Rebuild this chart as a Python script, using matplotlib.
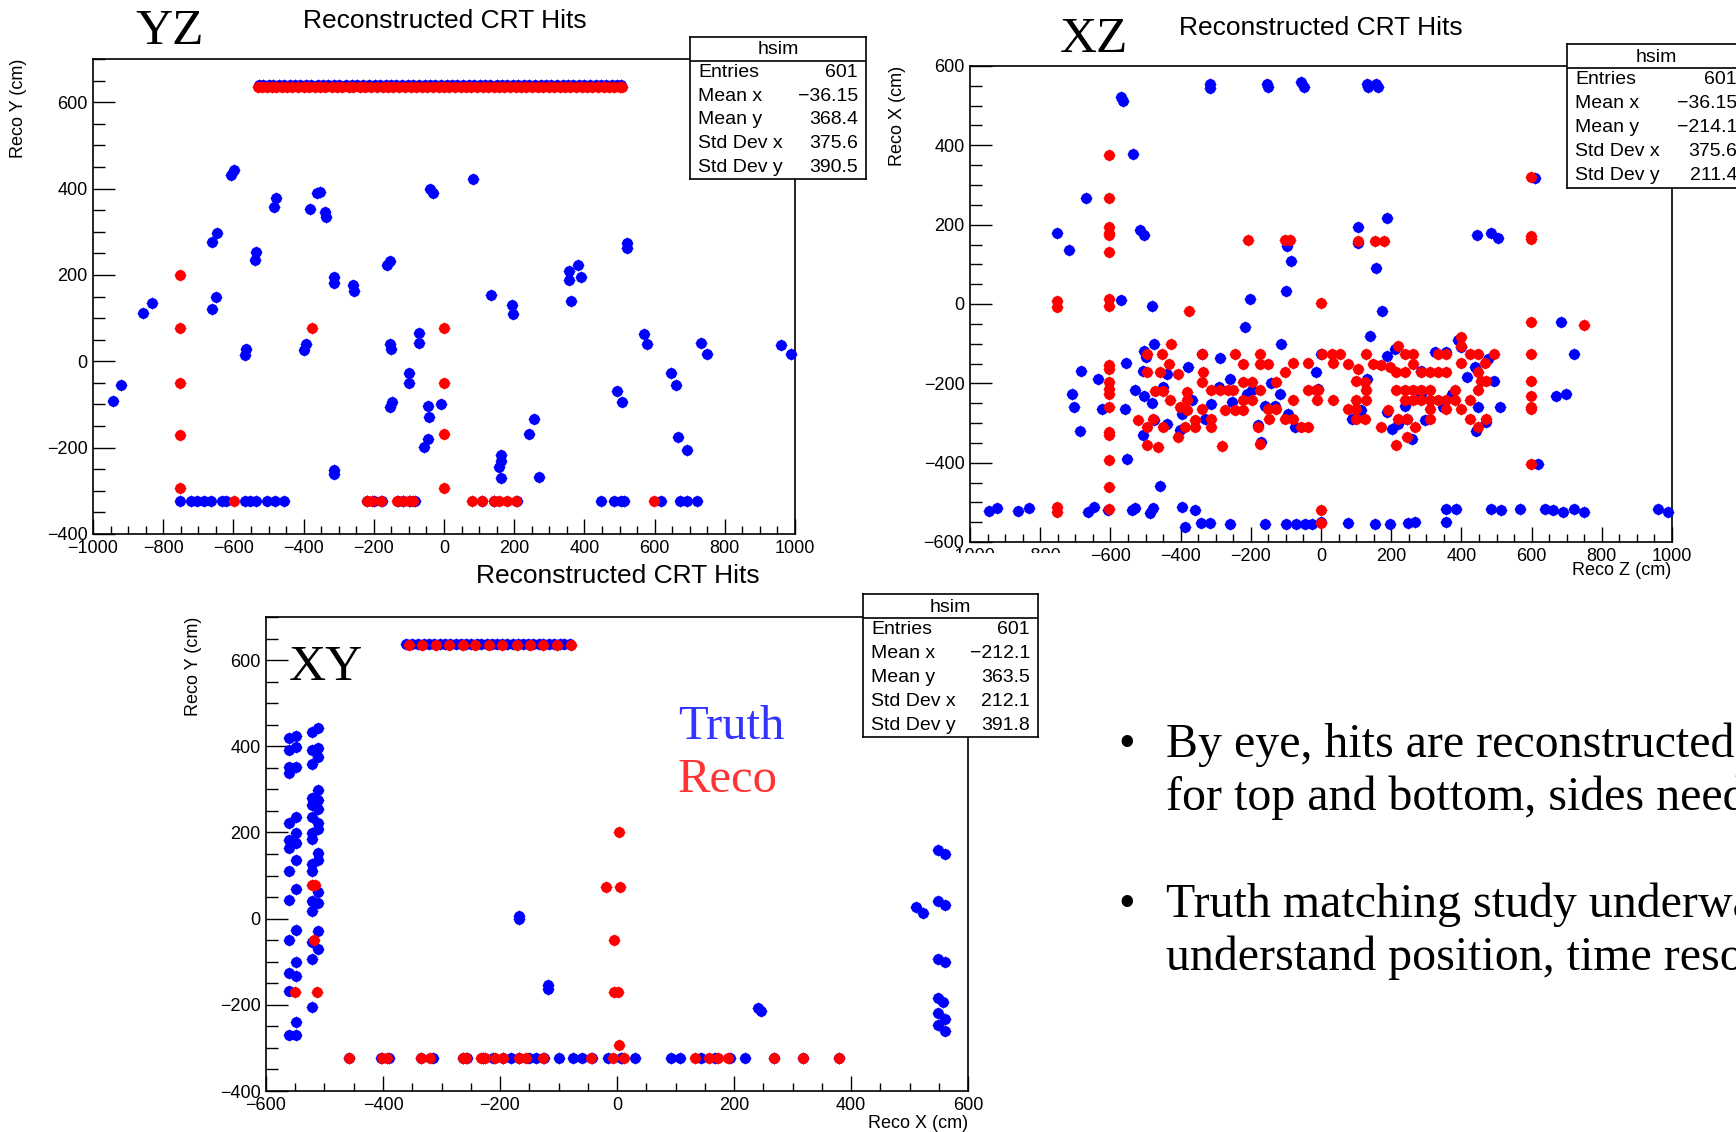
import numpy as np
import matplotlib.pyplot as plt
from matplotlib.patches import Rectangle
from matplotlib.ticker import MultipleLocator

plt.rcParams["font.family"] = ["Liberation Sans", "DejaVu Sans"]

W, H = 1736, 1132
BLUE = "#0000ff"
RED = "#ff0000"
SERIF = ["Liberation Serif", "DejaVu Serif"]

# ---------------- YZ view (z, y) ----------------
yz_truth = [(-942, -91), (-919, -54), (-857, 112), (-832, 135), (-660, 122), (-650, 150),
            (-661, 277), (-646, 297), (-606, 431), (-599, 442), (-568, 14), (-565, 28),
            (-539, 234), (-535, 254), (-485, 358), (-478, 377), (-400, 25), (-392, 40),
            (-383, 353), (-362, 389), (-353, 392), (-340, 346), (-337, 335), (-314, 195),
            (-313, 181), (-314, -251), (-314, -261), (-260, 176), (-256, 162), (-163, 224),
            (-155, 233), (-155, 40), (-152, 28), (-99, -27), (-99, -50), (-71, 66), (-71, 42),
            (-155, -105), (-149, -94), (-46, -103), (-43, -128), (-56, -198), (-47, -181),
            (-40, 398), (-30, 389), (-9, -99), (82, 423), (134, 154), (195, 131), (196, 110),
            (243, -168), (255, -134), (162, -217), (162, -232), (157, -244), (162, -270),
            (272, -268), (357, 209), (357, 189), (382, 222), (390, 196), (361, 139), (522, 273),
            (522, 262), (492, -69), (508, -94), (570, 63), (577, 40), (647, -28), (662, -56),
            (668, -175), (693, -206), (731, 43), (750, 16), (961, 37), (989, 16)]
yz_reco = [(-751, 200), (-751, 76), (-751, -50), (-751, -170), (-751, -294), (-375, 76),
           (1, 76), (1, -50), (1, -169), (1, -294)]
yz_top_truth_y, yz_top_reco_y, yz_bottom_y = 639, 635, -324
yz_top_truth_z = [-528, -515, -500, -488, -470, -455, -440, -425, -410, -392, -378, -360, -345,
                  -330, -312, -298, -280, -262, -248, -230, -215, -198, -182, -165, -150, -136,
                  -120, -103, -88, -72, -55, -40, -25, -8, 8, 22, 38, 55, 70, 85, 102, 118, 132,
                  150, 165, 180, 196, 212, 228, 242, 258, 275, 290, 305, 322, 338, 352, 368, 385,
                  400, 415, 432, 448, 462, 478, 492, 505]
yz_top_reco_z = [-530, -518, -505, -490, -478, -462, -448, -432, -415, -400, -385, -368, -352,
                 -338, -320, -305, -290, -272, -258, -240, -225, -208, -192, -175, -160, -145,
                 -128, -112, -95, -80, -62, -48, -30, -15, 0, 15, 30, 48, 62, 78, 95, 110, 125,
                 142, 158, 172, 188, 205, 220, 235, 250, 268, 282, 298, 312, 330, 345, 360, 375,
                 392, 408, 422, 438, 455, 470, 485, 500, 508]
yz_bottom_truth_z = [-751, -722, -705, -684, -663, -632, -620, -566, -552, -535, -504, -481, -457,
                     -220, -200, -177, -130, -116, -97, -82, 107, 143, 208, 446, 484, 503, 513,
                     617, 672, 693, 721]
yz_bottom_reco_z = [-599, -220, -206, -180, -134, -116, -101, -87, 79, 108, 143, 157, 179, 205, 598]

# ---------------- XZ view (z, x) ----------------
xz_truth = [(-947, -522), (-923, -514), (-862, -522), (-833, -514), (-753, 179), (-719, 136),
            (-669, 266), (-710, -228), (-703, -260), (-683, -168), (-686, -320), (-663, -524),
            (-648, -512), (-634, -190), (-625, -264), (-606, -520), (-571, 522), (-565, 512),
            (-537, 377), (-570, 10), (-516, 186), (-503, 174), (-555, -149), (-558, -264),
            (-554, -390), (-539, -520), (-530, -514), (-482, -6), (-486, -527), (-478, -514),
            (-458, -460), (-476, -101), (-503, -119), (-500, -134), (-506, -169), (-530, -216),
            (-503, -231), (-482, -249), (-506, -331), (-449, -210), (-439, -176), (-397, -513),
            (-359, -520), (-388, -562), (-342, -552), (-316, -553), (-316, 555), (-316, 545),
            (-260, -555), (-155, 555), (-152, 547), (-160, -555), (-56, 560), (-49, 547),
            (-101, -555), (-70, -555), (-46, -555), (-27, -555), (-203, 12), (-217, -57),
            (-115, -101), (-101, 32), (-86, 108), (-96, 146), (-380, -159), (-367, -243),
            (-397, -277), (-402, -317), (-340, -127), (-288, -136), (-260, -189), (-292, -210),
            (-253, -247), (-212, -226), (-198, -218), (-179, -306), (-170, -348), (-160, -256),
            (-132, -256), (-143, -200), (-118, -226), (-94, -277), (-75, -310), (-8, -214),
            (0, -126), (-15, -172), (-312, -252), (-331, -289), (-439, -302), (-476, -292),
            (130, 555), (158, 555), (135, 547), (161, 547), (106, 195), (187, 218), (104, 153),
            (158, 92), (175, -18), (139, -80), (187, -130), (210, -113), (130, -189), (115, -268),
            (87, -289), (187, -273), (201, -314), (220, -302), (244, -289), (258, -340),
            (239, -256), (286, -168), (286, -226), (296, -293), (324, -122), (357, -122),
            (348, -260), (372, -226), (391, -92), (400, -109), (417, -183), (438, -159),
            (447, -260), (443, -319), (471, -298), (476, -138), (493, -195), (509, -260),
            (609, 317), (618, -404), (445, 174), (485, 178), (504, 166), (684, -46), (720, -127),
            (670, -232), (699, -228), (0, -549), (78, -553), (154, -555), (196, -555), (248, -553),
            (267, -549), (357, -549), (357, -516), (386, -516), (485, -516), (514, -520),
            (566, -518), (637, -516), (661, -520), (689, -524), (722, -516), (749, -524),
            (959, -516), (988, -524)]
xz_reco = [(-753, -512), (-753, -524), (-753, 8), (-753, -7),
           (-604, 376), (-604, 268), (-604, 193), (-604, 180), (-604, 174), (-604, 132),
           (-604, 13), (-604, -4), (-604, -155), (-604, -164), (-604, -197), (-604, -214),
           (-604, -226), (-604, -260), (-604, -323), (-604, -331), (-604, -394), (-604, -461),
           (-604, -516), (-376, -18), (-208, 161), (-103, 161), (-89, 161), (0, 2), (0, -520),
           (0, -552), (-497, -127), (-497, -172), (-520, -292), (-497, -310), (-497, -356),
           (-463, -361), (-473, -220), (-449, -220), (-428, -102), (-454, -126), (-433, -151),
           (-459, -172), (-430, -243), (-478, -289), (-449, -310), (-407, -176), (-402, -260),
           (-407, -335), (-383, -222), (-383, -243), (-383, -266), (-359, -292), (-388, -310),
           (-359, -310), (-338, -127), (-335, -172), (-338, -197), (-312, -218), (-288, -218),
           (-264, -218), (-250, -218), (-312, -289), (-312, -310), (-338, -264), (-283, -359),
           (-244, -127), (-222, -151), (-222, -197), (-198, -197), (-174, -127), (-174, -151),
           (-174, -218), (-151, -151), (-127, -197), (-103, -172), (-80, -149), (-80, -243),
           (-103, -289), (-80, -289), (-56, -310), (-37, -310), (-37, -149), (-37, -218),
           (-13, -218), (-10, -243), (-274, -267), (-245, -267), (-222, -267), (-198, -243),
           (-179, -310), (-174, -352), (-151, -264), (-127, -264), (-149, -289), (-222, -243),
           (599, 319), (599, 172), (599, 164), (599, -46), (599, -127), (599, -195), (599, -231),
           (599, -260), (599, -264), (599, -403), (749, -52), (106, 159), (154, 159), (180, 159),
           (2, -126), (30, -126), (54, -126), (35, -149), (78, -151), (106, -164), (101, -193),
           (125, -197), (127, -218), (127, -243), (-9, -218), (35, -243), (78, -264), (101, -264),
           (101, -289), (125, -289), (101, -243), (127, -127), (149, -151), (172, -155),
           (196, -159), (220, -107), (215, -172), (239, -172), (239, -126), (262, -126),
           (262, -151), (215, -218), (239, -218), (262, -218), (286, -218), (310, -218),
           (239, -243), (262, -243), (286, -243), (310, -243), (220, -289), (244, -289),
           (267, -310), (192, -267), (172, -310), (215, -356), (244, -335), (286, -172),
           (310, -172), (334, -172), (357, -172), (310, -264), (310, -289), (334, -127),
           (357, -127), (334, -243), (357, -243), (381, -243), (381, -218), (357, -264),
           (400, -84), (400, -105), (400, -264), (424, -127), (447, -127), (400, -149),
           (447, -172), (457, -195), (466, -149), (447, -218), (424, -243), (424, -289),
           (447, -310), (471, -289), (493, -127), (471, -195)]

# ---------------- XY view (x, y) ----------------
xy_col_x = [-560, -548, -522, -511]
xy_col_y = [[420, 391, 352, 337, 223, 183, 164, 110, 43, -50, -126, -169, -271],
            [425, 399, 352, 235, 199, 176, 137, 68, -26, -101, -132, -240, -269],
            [433, 391, 359, 279, 264, 235, 199, 185, 126, 110, 41, 18, -55, -94, -205],
            [443, 395, 375, 299, 276, 254, 222, 208, 152, 135, 62, 37, -29, -71]]
xy_truth = [(-168, 5), (-168, -2), (-118, -155), (-118, -163), (241, -207), (247, -215),
            (548, 159), (561, 151), (548, 40), (561, 31), (511, 26), (523, 14), (548, -94),
            (561, -101), (548, -184), (558, -194), (548, -219), (561, -232), (548, -247),
            (560, -260)]
xy_reco = [(-551, -171), (-513, -171), (-522, 77), (-517, 77), (-518, -50), (3, 200), (-19, 74),
           (5, 74), (-5, -50), (-5, -171), (1, -171), (3, -294)]
xy_top_truth_y, xy_top_reco_y, xy_bottom_y = 638, 635, -324
xy_top_truth_x = [-360, -351, -341, -330, -322, -313, -302, -294, -285, -276, -267, -258, -250,
                  -240, -232, -222, -214, -205, -196, -188, -178, -170, -161, -152, -143, -134,
                  -126, -116, -108, -98, -90, -80]
xy_top_reco_x = [-356, -334, -310, -287, -263, -242, -218, -196, -171, -149, -126, -102, -79]
xy_bottom_truth_x = [-458, -403, -389, -335, -315, -263, -257, -229, -212, -195, -181, -167,
                     -150, -138, -124, -100, -76, -59, -42, -16, 7, 9, 30, 92, 107, 144, 167,
                     193, 218, 268, 318, 379]
xy_bottom_reco_x = [-458, -402, -393, -335, -320, -263, -258, -232, -226, -209, -195, -167,
                    -155, -127, -44, -6, 12, 133, 158, 173, 190, 268, 318, 379]

STAT_NAMES = ["Entries", "Mean x", "Mean y", "Std Dev x", "Std Dev y"]
yz_stats = ["601", "\u221236.15", "368.4", "375.6", "390.5"]
xz_stats = ["601", "\u221236.15", "\u2212214.1", "375.6", "211.4"]
xy_stats = ["601", "\u2212212.1", "363.5", "212.1", "391.8"]

bullets = [["By eye, hits are reconstructed well", "for top and bottom, sides need work"],
           ["Truth matching study underway to", "understand position, time resolution"]]


def rect(x0, y0, x1, y1):
    return [x0 / W, 1 - y1 / H, (x1 - x0) / W, (y1 - y0) / H]


def ftext(fig, x, y, s, **kw):
    return fig.text(x / W, 1 - y / H, s, **kw)


def root_axes(fig, box, xlim, ylim):
    ax = fig.add_axes(rect(*box))
    ax.set_xlim(*xlim)
    ax.set_ylim(*ylim)
    for axis in (ax.xaxis, ax.yaxis):
        axis.set_major_locator(MultipleLocator(200))
        axis.set_minor_locator(MultipleLocator(50))
    ax.tick_params(which="both", direction="in", top=False, right=False,
                   labelsize=13, pad=4, width=1)
    ax.tick_params(axis="y", which="major", length=15.5)
    ax.tick_params(axis="y", which="minor", length=8.5)
    ax.tick_params(axis="x", which="major", length=11)
    ax.tick_params(axis="x", which="minor", length=6)
    for s in ax.spines.values():
        s.set_linewidth(1.2)
    return ax


def hits(ax, xs, ys, color):
    ax.scatter(xs, ys, s=62, c=color, marker="o", linewidths=0, zorder=3, clip_on=False)
    ax.scatter(xs, ys, s=70, c=color, marker="+", linewidths=0.6, zorder=3, clip_on=False)


def stats_box(fig, box, values, z=3):
    ax = fig.add_axes(rect(*box), zorder=z)
    w, h = box[2] - box[0], box[3] - box[1]
    ax.set_xlim(0, w)
    ax.set_ylim(h, 0)
    ax.set_xticks([])
    ax.set_yticks([])
    for s in ax.spines.values():
        s.set_linewidth(1.2)
    head = 24
    ax.axhline(head, color="black", lw=1.2)
    ax.text(w / 2, head / 2 + 1, "hsim", ha="center", va="center", fontsize=14)
    row = (h - head) / 5
    for i, (name, val) in enumerate(zip(STAT_NAMES, values)):
        yc = head + row * (i + 0.5)
        ax.text(8, yc, name, ha="left", va="center", fontsize=14)
        ax.text(w - 8, yc, val, ha="right", va="center", fontsize=14)


fig = plt.figure(figsize=(W / 100, H / 100), dpi=100)

# YZ
ax = root_axes(fig, (93, 59, 795, 534), (-1000, 1000), (-400, 700))
hits(ax, yz_top_truth_z, [yz_top_truth_y] * len(yz_top_truth_z), BLUE)
hits(ax, yz_bottom_truth_z, [yz_bottom_y] * len(yz_bottom_truth_z), BLUE)
hits(ax, [p[0] for p in yz_truth], [p[1] for p in yz_truth], BLUE)
hits(ax, yz_top_reco_z, [yz_top_reco_y] * len(yz_top_reco_z), RED)
hits(ax, yz_bottom_reco_z, [yz_bottom_y] * len(yz_bottom_reco_z), RED)
hits(ax, [p[0] for p in yz_reco], [p[1] for p in yz_reco], RED)
ftext(fig, 445, 28, "Reconstructed CRT Hits", ha="center", va="baseline", fontsize=19)
ftext(fig, 135, 44, "YZ", ha="left", va="baseline", fontsize=37, family=SERIF)
ftext(fig, 19, 59, "Reco Y (cm)", rotation=90, ha="center", va="top", fontsize=13)
stats_box(fig, (690, 37, 866, 179), yz_stats)

# XZ
ax = root_axes(fig, (970, 66, 1672, 542), (-1000, 1000), (-600, 600))
hits(ax, [p[0] for p in xz_truth], [p[1] for p in xz_truth], BLUE)
hits(ax, [p[0] for p in xz_reco], [p[1] for p in xz_reco], RED)
ftext(fig, 1321, 35, "Reconstructed CRT Hits", ha="center", va="baseline", fontsize=19)
ftext(fig, 1060, 52, "XZ", ha="left", va="baseline", fontsize=37, family=SERIF)
ftext(fig, 897, 66, "Reco X (cm)", rotation=90, ha="center", va="top", fontsize=13)
ftext(fig, 1671, 562, "Reco Z (cm)", ha="right", va="top", fontsize=13)
stats_box(fig, (1567, 44, 1745, 188), xz_stats)

# white background of the XY picture hides part of the XZ tick labels
fig.add_artist(Rectangle((940 / W, 1 - 615 / H), 132 / W, 62 / H, transform=fig.transFigure,
                         facecolor="white", edgecolor="none", zorder=1))

# XY
ax = root_axes(fig, (266, 617, 968, 1091), (-600, 600), (-400, 700))
for cx, cys in zip(xy_col_x, xy_col_y):
    hits(ax, [cx] * len(cys), cys, BLUE)
hits(ax, [p[0] for p in xy_truth], [p[1] for p in xy_truth], BLUE)
hits(ax, xy_top_truth_x, [xy_top_truth_y] * len(xy_top_truth_x), BLUE)
hits(ax, xy_bottom_truth_x, [xy_bottom_y] * len(xy_bottom_truth_x), BLUE)
hits(ax, xy_top_reco_x, [xy_top_reco_y] * len(xy_top_reco_x), RED)
hits(ax, xy_bottom_reco_x, [xy_bottom_y] * len(xy_bottom_reco_x), RED)
hits(ax, [p[0] for p in xy_reco], [p[1] for p in xy_reco], RED)
ax.set_zorder(2)
ftext(fig, 618, 583, "Reconstructed CRT Hits", ha="center", va="baseline", fontsize=19, zorder=4)
ftext(fig, 289, 680, "XY", ha="left", va="baseline", fontsize=37, family=SERIF, zorder=4)
ftext(fig, 678, 739, "Truth", ha="left", va="baseline", fontsize=35, family=SERIF,
      color="#3333ff", zorder=4)
ftext(fig, 678, 792, "Reco", ha="left", va="baseline", fontsize=35, family=SERIF,
      color="#ff3333", zorder=4)
ftext(fig, 193, 617, "Reco Y (cm)", rotation=90, ha="center", va="top", fontsize=13)
ftext(fig, 968, 1115, "Reco X (cm)", ha="right", va="top", fontsize=13)
stats_box(fig, (863, 594, 1038, 737), xy_stats, z=5)

# bullets (they run past the right edge of the slide in the original)
for (l1, l2), yb in zip(bullets, [757, 917]):
    ftext(fig, 1127, yb, "\u2022", ha="center", va="baseline", fontsize=34.5, family=SERIF)
    ftext(fig, 1166, yb, l1, ha="left", va="baseline", fontsize=34.5, family=SERIF)
    ftext(fig, 1166, yb + 53, l2, ha="left", va="baseline", fontsize=34.5, family=SERIF)

fig.savefig("out.png", dpi=100)
